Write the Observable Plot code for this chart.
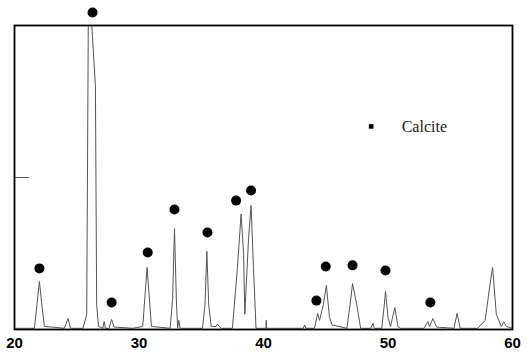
<!DOCTYPE html>
<html>
<head>
<meta charset="utf-8">
<script src="https://cdn.jsdelivr.net/npm/d3@7"></script>
<script src="https://cdn.jsdelivr.net/npm/@observablehq/plot@0.6"></script>
<style>
  html, body { margin: 0; padding: 0; background: #fff; }
  #chart svg { display: block; }
</style>
</head>
<body>
<div id="chart"></div>
<script>
// XRD trace vertices: 2θ (degrees) and relative intensity
const twoTheta = [
  20.0, 21.6, 21.8, 22.0, 22.2, 22.4, 23.0, 24.0, 24.3, 24.5,
  25.5, 25.8, 25.95, 26.5, 26.6, 26.75, 27.1, 27.2, 27.3, 27.6,
  27.8, 28.0, 29.5, 30.3, 30.55, 30.65, 30.8, 31.0, 32.5, 32.7,
  32.85, 33.0, 33.1, 33.2, 33.3, 35.1, 35.3, 35.45, 35.6, 35.8,
  36.2, 36.3, 36.6, 37.5, 37.9, 38.2, 38.4, 38.5, 38.8, 39.0,
  39.2, 39.4, 40.2, 40.22, 40.25, 43.2, 43.3, 43.4, 44.1, 44.35,
  44.5, 44.8, 45.05, 45.3, 45.5, 46.7, 46.95, 47.15, 47.5, 47.8,
  48.6, 48.8, 48.9, 49.5, 49.7, 49.8, 50.0, 50.2, 50.55, 50.8,
  51.0, 52.9, 53.2, 53.35, 53.6, 53.9, 55.3, 55.55, 55.8, 57.2,
  57.8, 58.2, 58.4, 58.7, 59.1, 59.3, 59.5, 60.0
];
const intensity = [
  0.4, 0.4, 8, 15.8, 8, 1, 0.8, 0.4, 3.6, 0.4,
  0.4, 5, 118, 80, 8, 1, 0.4, 2.6, 0.4, 0.4,
  3.3, 0.8, 0.4, 1, 15, 20.4, 12, 1, 0.4, 10,
  33.2, 10, 0.4, 3, 0.4, 0.4, 8, 25.7, 8, 1,
  1, 1.8, 0.4, 0.4, 20, 38, 25, 5, 30, 40.8,
  20, 0.4, 0.4, 3, 0.4, 0.4, 1.5, 0.4, 0.4, 5.3,
  3, 8, 14.5, 4, 1.5, 0.4, 8, 15.1, 8, 0.4,
  0.4, 2, 0.4, 0.4, 8, 12.5, 4, 1, 7.2, 1,
  0.4, 0.4, 2.6, 1, 3.6, 0.8, 0.4, 5.3, 0.4, 0.4,
  3, 15, 20.4, 5, 1, 2.5, 1, 0.4
];

// Calcite marker positions (2θ, marker height)
const calciteTheta = [22.0, 26.27, 27.8, 30.7, 32.85, 35.5, 37.8, 39.0, 44.25, 45.0, 47.15, 49.8, 53.4];
const calciteLevel = [20.1, 104.3, 8.9, 25.3, 39.5, 31.9, 42.4, 45.7, 9.5, 20.7, 21.1, 19.4, 8.9];

const xTicks = [20, 30, 40, 50, 60];
const legendLabel = "Calcite";

const trace = twoTheta.map((t, i) => ({t, v: intensity[i]}));
const markers = calciteTheta.map((t, i) => ({t, v: calciteLevel[i]}));

const chart = Plot.plot({
  width: 527,
  height: 357,
  marginLeft: 14,
  marginRight: 15,
  marginTop: 25,
  marginBottom: 28,
  style: {background: "#fff", fontFamily: "Liberation Sans, Arial, sans-serif"},
  x: {domain: [20, 60]},
  y: {domain: [0, 100], axis: null},
  marks: [
    Plot.line(trace, {x: "t", y: "v", stroke: "#555", strokeWidth: 1, clip: true}),
    Plot.ruleY([50], {x1: 20, x2: 21.2, stroke: "#555", strokeWidth: 1}),
    Plot.frame({stroke: "#000", strokeWidth: 1.8}),
    Plot.dot(markers, {x: "t", y: "v", r: 5, fill: "#000", stroke: "none"}),
    Plot.dot([legendLabel], {x: 48.65, y: 66.8, r: 2.6, fill: "#000", symbol: "square"}),
    Plot.text([legendLabel], {x: 51.1, y: 66.8, text: d => d, textAnchor: "start", fontFamily: "Liberation Serif, serif", fontSize: 16, fill: "#222"}),
    Plot.axisX({ticks: xTicks, tickSize: 0, tickPadding: 8, fontSize: 15, fontWeight: "bold", label: null, tickFormat: d => String(d)})
  ]
});
document.getElementById("chart").appendChild(chart);
</script>
</body>
</html>
